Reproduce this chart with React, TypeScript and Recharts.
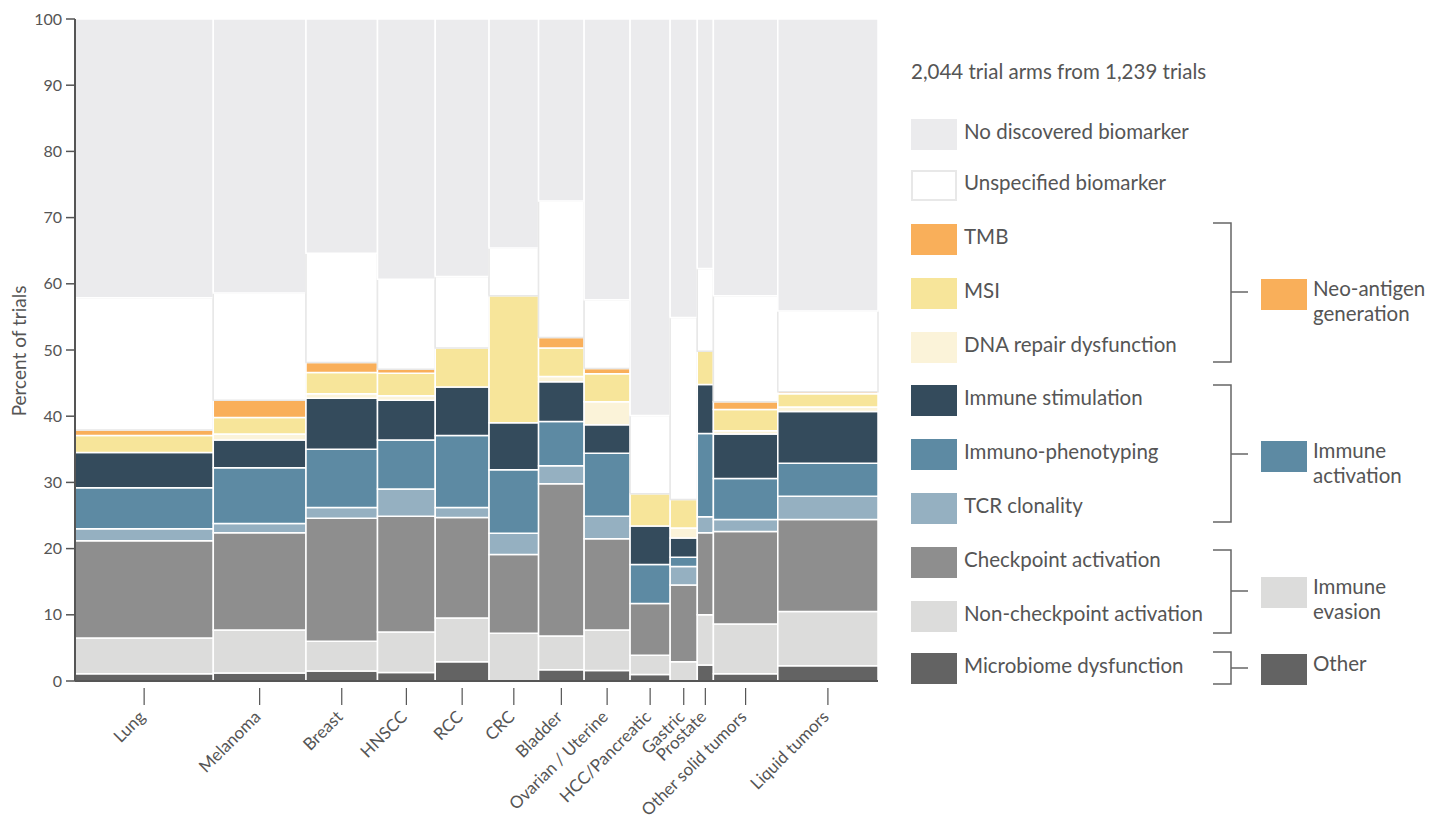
import React from "react";
import { ComposedChart, XAxis, YAxis, ReferenceArea, Line } from "recharts";

const tumorTypes = [
  "Lung",
  "Melanoma",
  "Breast",
  "HNSCC",
  "RCC",
  "CRC",
  "Bladder",
  "Ovarian / Uterine",
  "HCC/Pancreatic",
  "Gastric",
  "Prostate",
  "Other solid tumors",
  "Liquid tumors",
];

// trial arms per tumour type -> column width
const trialArms = [352, 236, 182, 147, 137, 126, 116, 117, 102, 69, 41, 164, 255];

// percent of trial arms per biomarker class, stacked bottom to top
const microbiome = [1.1, 1.2, 1.5, 1.3, 2.9, 0, 1.7, 1.6, 1.0, 0, 2.4, 1.1, 2.3];
const nonCheckpoint = [5.4, 6.5, 4.5, 6.1, 6.6, 7.2, 5.1, 6.1, 2.9, 2.9, 7.6, 7.5, 8.2];
const checkpoint = [14.7, 14.7, 18.6, 17.5, 15.2, 11.9, 23.0, 13.8, 7.8, 11.6, 12.4, 14.0, 13.9];
const tcrClonality = [1.8, 1.4, 1.6, 4.1, 1.5, 3.2, 2.7, 3.4, 0, 2.8, 2.4, 1.8, 3.5];
const immunoPhenotyping = [6.2, 8.4, 8.8, 7.4, 10.9, 9.6, 6.7, 9.5, 5.9, 1.4, 12.6, 6.2, 5.0];
const immuneStimulation = [5.3, 4.2, 7.7, 6.0, 7.3, 7.1, 6.0, 4.3, 5.8, 2.9, 7.4, 6.7, 7.8];
const dnaRepair = [0, 0.9, 0.7, 0.7, 0, 0, 0.8, 3.5, 0, 1.5, 0, 0.5, 0.7];
const msi = [2.6, 2.5, 3.2, 3.4, 5.9, 19.2, 4.3, 4.2, 4.9, 4.3, 5.0, 3.2, 2.0];
const tmb = [0.8, 2.6, 1.5, 0.6, 0, 0, 1.6, 0.8, 0, 0, 0, 1.2, 0.3];
const unspecified = [20.0, 16.2, 16.5, 13.6, 10.8, 7.2, 20.6, 10.4, 11.8, 27.5, 12.5, 16.0, 12.2];
const noDiscovered = [42.1, 41.4, 35.4, 39.3, 38.9, 34.6, 27.5, 42.4, 59.9, 45.1, 37.7, 41.8, 44.1];

const yTicks = [0, 10, 20, 30, 40, 50, 60, 70, 80, 90, 100];

const FONT = "Lato, 'Open Sans', sans-serif";
const TEXT = "#555";

const layers = [
  { name: "Microbiome dysfunction", color: "#636363", values: microbiome },
  { name: "Non-checkpoint activation", color: "#DCDCDB", values: nonCheckpoint },
  { name: "Checkpoint activation", color: "#8E8E8E", values: checkpoint },
  { name: "TCR clonality", color: "#95B0C1", values: tcrClonality },
  { name: "Immuno-phenotyping", color: "#5D8AA3", values: immunoPhenotyping },
  { name: "Immune stimulation", color: "#344B5C", values: immuneStimulation },
  { name: "DNA repair dysfunction", color: "#FBF3D9", values: dnaRepair },
  { name: "MSI", color: "#F7E59A", values: msi },
  { name: "TMB", color: "#F9AF5A", values: tmb },
  { name: "Unspecified biomarker", color: "#FFFFFF", values: unspecified },
  { name: "No discovered biomarker", color: "#EBEBED", values: noDiscovered },
];

const totalArms = trialArms.reduce((a, b) => a + b, 0);

let runningStart = 0;
const columns = tumorTypes.map((name, i) => {
  const start = runningStart;
  runningStart += trialArms[i];
  return { name, start, end: start + trialArms[i], mid: start + trialArms[i] / 2, zero: 0 };
});

const cells: { key: string; x1: number; x2: number; y1: number; y2: number; fill: string; stroke: string }[] = [];
columns.forEach((col, i) => {
  let base = 0;
  layers.forEach((layer) => {
    const v = layer.values[i];
    if (v > 0) {
      cells.push({
        key: `${col.name}-${layer.name}`,
        x1: col.start,
        x2: col.end,
        y1: base,
        y2: Math.min(100, base + v),
        fill: layer.color,
        stroke: layer.name === "Unspecified biomarker" ? "#E8E8E8" : "#FFFFFF",
      });
    }
    base += v;
  });
});

function TumorTick(props: any) {
  const { x, y, payload } = props;
  const col = columns.find((c) => Math.abs(c.mid - payload.value) < 0.01);
  const tx = x + 2;
  const ty = y + 37;
  return (
    <g>
      <line x1={x} x2={x} y1={y + 7} y2={y + 24} stroke={TEXT} strokeWidth={1.2} />
      <text
        x={tx}
        y={ty}
        textAnchor="end"
        transform={`rotate(-45 ${tx} ${ty})`}
        fontSize={17}
        fill={TEXT}
        fontFamily={FONT}
      >
        {col ? col.name : ""}
      </text>
    </g>
  );
}

// legend rows, top to bottom
const legendRows = [...layers].reverse();
const legendTops = [119, 170, 224, 278, 332, 385, 439, 493, 547, 601, 653];

const groups = [
  { label: ["Neo-antigen", "generation"], color: "#F9AF5A", top: 223, bottom: 362, mid: 292, swatch: 279 },
  { label: ["Immune", "activation"], color: "#5D8AA3", top: 385, bottom: 522, mid: 454, swatch: 441 },
  { label: ["Immune", "evasion"], color: "#DCDCDB", top: 550, bottom: 633, mid: 591, swatch: 577 },
  { label: ["Other"], color: "#636363", top: 652, bottom: 684, mid: 668, swatch: 654 },
];

export default function App() {
  return (
    <div style={{ position: "absolute", left: 0, top: 0, width: 1440, height: 825, background: "#fff", fontFamily: FONT, color: TEXT }}>
      <ComposedChart width={900} height={825} data={columns} margin={{ top: 19, right: 22, bottom: 0, left: 0 }}>
        <XAxis
          type="number"
          dataKey="mid"
          domain={[0, totalArms]}
          ticks={columns.map((c) => c.mid)}
          interval={0}
          tick={<TumorTick />}
          tickLine={false}
          tickSize={0}
          tickMargin={0}
          height={144}
          axisLine={{ stroke: TEXT, strokeWidth: 2 }}
        />
        <YAxis
          type="number"
          domain={[0, 100]}
          ticks={yTicks}
          interval={0}
          width={75}
          tickSize={9}
          tickMargin={4}
          axisLine={{ stroke: TEXT, strokeWidth: 2 }}
          tickLine={{ stroke: TEXT, strokeWidth: 1.5 }}
          tick={{ fill: TEXT, fontSize: 16, fontFamily: FONT }}
        />
        {cells.map((c) => (
          <ReferenceArea
            key={c.key}
            x1={c.x1}
            x2={c.x2}
            y1={c.y1}
            y2={c.y2}
            fill={c.fill}
            fillOpacity={1}
            stroke={c.stroke}
            strokeWidth={1.5}
            ifOverflow="visible"
          />
        ))}
        <Line dataKey="zero" stroke="none" dot={false} activeDot={false} isAnimationActive={false} />
      </ComposedChart>

      <svg style={{ position: "absolute", left: 0, top: 0 }} width={1440} height={825}>
        <text
          x={18}
          y={351}
          transform="rotate(-90 18 351)"
          textAnchor="middle"
          dominantBaseline="central"
          fontSize={19}
          fill={TEXT}
          fontFamily={FONT}
        >
          Percent of trials
        </text>
        {groups.map((g) => (
          <g key={g.label.join(" ")} stroke="#666" strokeWidth={1.5} fill="none">
            <polyline points={`1213,${g.top} 1231,${g.top} 1231,${g.bottom} 1213,${g.bottom}`} />
            <line x1={1231} x2={1248} y1={g.mid} y2={g.mid} />
          </g>
        ))}
      </svg>

      <div style={{ position: "absolute", left: 911, top: 59, fontSize: 20.5, whiteSpace: "nowrap" }}>
        2,044 trial arms from 1,239 trials
      </div>

      {legendRows.map((row, i) => (
        <div key={row.name} style={{ position: "absolute", left: 911, top: legendTops[i], height: 31, display: "flex", alignItems: "center" }}>
          <div
            style={{
              width: row.name === "Unspecified biomarker" ? 42 : 46,
              height: row.name === "Unspecified biomarker" ? 27 : 31,
              background: row.color,
              border: row.name === "Unspecified biomarker" ? "2px solid #E8E8E8" : "none",
            }}
          />
          <span style={{ marginLeft: 7, fontSize: 20.5, whiteSpace: "nowrap", marginTop: -7 }}>{row.name}</span>
        </div>
      ))}

      {groups.map((g) => (
        <div key={g.label.join("-")}>
          <div style={{ position: "absolute", left: 1261, top: g.swatch, width: 46, height: 31, background: g.color }} />
          <div style={{ position: "absolute", left: 1313, top: g.swatch - 3, fontSize: 20.5, lineHeight: "25px", whiteSpace: "nowrap" }}>
            {g.label.map((l) => (
              <div key={l}>{l}</div>
            ))}
          </div>
        </div>
      ))}
    </div>
  );
}
